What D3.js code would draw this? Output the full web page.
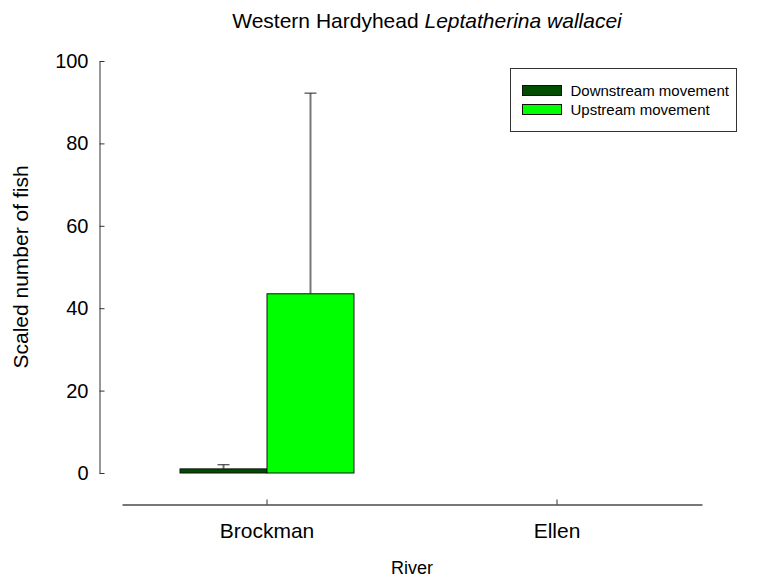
<!DOCTYPE html>
<html>
<head>
<meta charset="utf-8">
<script src="https://cdn.jsdelivr.net/npm/d3@7"></script>
<style>
  body { margin: 0; background: #fff; }
  svg text { font-family: Arial, "Liberation Sans", sans-serif; fill: #000; }
</style>
</head>
<body>
<div id="chart"></div>
<script>
// data
const rivers = ["Brockman", "Ellen"];
const seriesNames = ["Downstream movement", "Upstream movement"];
const seriesColors = ["#004d00", "#00ff00"];
const downstreamMean = [1.0, 0];
const downstreamErr = [1.0, 0];
const upstreamMean = [43.5, 0];
const upstreamErr = [48.7, 0];
const yTicks = [0, 20, 40, 60, 80, 100];

const width = 767;
const height = 578;

const svg = d3.select("#chart").append("svg")
  .attr("width", width)
  .attr("height", height);

const x = d3.scaleBand().domain(rivers).range([122, 702]);
const inner = d3.scaleBand().domain(seriesNames).range([0, x.bandwidth()]).paddingOuter(0.667).paddingInner(0);
const y = d3.scaleLinear().domain([0, 100]).range([473, 61]);

const rows = [];
rivers.forEach((r, i) => {
  rows.push({river: r, s: seriesNames[0], v: downstreamMean[i], e: downstreamErr[i], c: seriesColors[0]});
  rows.push({river: r, s: seriesNames[1], v: upstreamMean[i], e: upstreamErr[i], c: seriesColors[1]});
});
const shown = rows.filter(d => d.v > 0);
const cx = d => x(d.river) + inner(d.s) + inner.bandwidth() / 2;

// error bars (upper only), drawn behind bars
const eb = svg.append("g");
eb.selectAll("line.stem").data(shown).enter().append("line")
  .attr("x1", cx).attr("x2", cx)
  .attr("y1", d => y(d.v))
  .attr("y2", d => y(d.v + d.e))
  .attr("stroke", "#777").attr("stroke-width", 2);
eb.selectAll("line.cap").data(shown).enter().append("line")
  .attr("x1", d => cx(d) - 6)
  .attr("x2", d => cx(d) + 6)
  .attr("y1", d => y(d.v + d.e))
  .attr("y2", d => y(d.v + d.e))
  .attr("stroke", "#222").attr("stroke-width", 1);

svg.append("g").selectAll("rect").data(shown).enter().append("rect")
  .attr("x", d => x(d.river) + inner(d.s))
  .attr("y", d => y(d.v))
  .attr("width", inner.bandwidth())
  .attr("height", d => y(0) - y(d.v))
  .attr("fill", d => d.c)
  .attr("stroke", "#111").attr("stroke-width", 1);

// y axis
const yAxis = svg.append("g")
  .attr("transform", "translate(99.5,0)")
  .call(d3.axisRight(y).tickValues(yTicks).tickSize(5).tickSizeOuter(0));
yAxis.select(".domain").attr("stroke", "#333");
yAxis.selectAll(".tick line").attr("stroke", "#333");
yAxis.selectAll(".tick text")
  .attr("x", -11).attr("text-anchor", "end")
  .style("font-size", "20px");

// x axis
const xAxis = svg.append("g")
  .attr("transform", "translate(0,504.5)")
  .call(d3.axisTop(x).tickSize(5).tickSizeOuter(0));
xAxis.select(".domain").attr("stroke", "#777").attr("stroke-width", 2);
xAxis.selectAll(".tick line").attr("stroke", "#333");
xAxis.selectAll(".tick text")
  .attr("y", 26).attr("dy", "0.35em")
  .style("font-size", "21px");

// axis titles
svg.append("text")
  .attr("transform", "translate(28,267) rotate(-90)")
  .attr("text-anchor", "middle")
  .style("font-size", "21px")
  .text("Scaled number of fish");

svg.append("text")
  .attr("x", 412).attr("y", 574)
  .attr("text-anchor", "middle")
  .style("font-size", "18px")
  .text("River");

// title
const title = svg.append("text")
  .attr("x", 427).attr("y", 28)
  .attr("text-anchor", "middle")
  .style("font-size", "21px");
title.append("tspan").text("Western Hardyhead ");
title.append("tspan").style("font-style", "italic").text("Leptatherina wallacei");

// legend
const legend = svg.append("g").attr("transform", "translate(510.5,68.5)");
legend.append("rect")
  .attr("width", 226).attr("height", 63)
  .attr("fill", "#fff").attr("stroke", "#333");
const li = legend.selectAll("g.item").data(seriesNames).enter().append("g")
  .attr("transform", (d, i) => "translate(12," + (17 + i * 19) + ")");
li.append("rect")
  .attr("width", 39).attr("height", 10)
  .attr("fill", (d, i) => seriesColors[i])
  .attr("stroke", "#111");
li.append("text")
  .attr("x", 48).attr("y", 5).attr("dy", "0.35em")
  .style("font-size", "15px")
  .text(d => d);
</script>
</body>
</html>
